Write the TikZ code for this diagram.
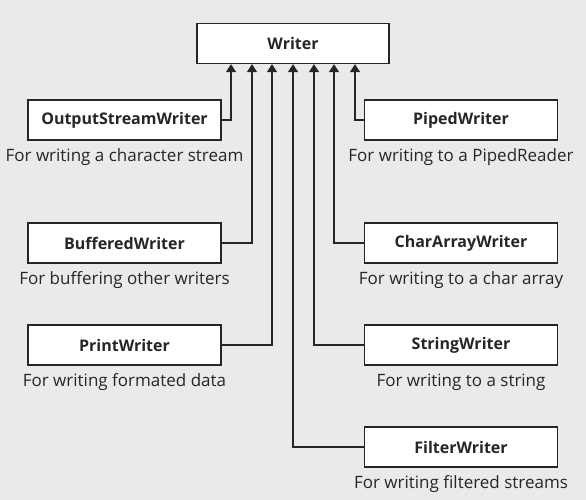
\documentclass[tikz,border=0pt]{standalone}
\usepackage{fontspec}
\setmainfont{Open Sans}
\usetikzlibrary{shapes,arrows.meta,positioning}
\definecolor{bggray}{HTML}{EAEAEA}
\definecolor{ink}{HTML}{262626}
\tikzstyle{block} = [draw=ink, fill=white, rectangle, line width=1.3pt,
    minimum height=40pt, minimum width=193pt, font=\bfseries\fontsize{16}{19}\selectfont, text=ink]
\tikzstyle{caption} = [inner sep=0pt, font=\fontsize{17}{20}\selectfont, text=ink]
\tikzstyle{link} = [draw=ink, line width=1.3pt, -{Triangle[width=10pt,length=8pt]}]

\begin{document}
\begin{tikzpicture}[x=1pt,y=1pt]
\fill[bggray] (0,0) rectangle (586,-500);
\useasboundingbox (0,0) rectangle (586,-500);

\node[block, name=writer, minimum width=192pt] at (293,-43.5) {Writer};

% left column
\node[block, name=osw] at (124.5,-120) {OutputStreamWriter};
\node[block, name=buffered] at (124.5,-243) {BufferedWriter};
\node[block, name=print] at (124.5,-345) {PrintWriter};

% right column
\node[block, name=piped] at (461,-120) {PipedWriter};
\node[block, name=chararray] at (461,-243) {CharArrayWriter};
\node[block, name=string] at (461,-345) {StringWriter};
\node[block, name=filter] at (461,-447) {FilterWriter};

\node[caption, name=oswtxt, below=8pt of osw] {For writing a character stream};
\node[caption, name=bufferedtxt, below=8pt of buffered] {For buffering other writers};
\node[caption, name=printtxt, below=8pt of print] {For writing formated data};
\node[caption, name=pipedtxt, below=8pt of piped] {For writing to a PipedReader};
\node[caption, name=chararraytxt, below=8pt of chararray] {For writing to a char array};
\node[caption, name=stringtxt, below=8pt of string] {For writing to a string};
\node[caption, name=filtertxt, below=8pt of filter] {For writing filtered streams};

% taps under Writer
\coordinate (t1) at ([xshift=-62pt]writer.south);
\coordinate (t2) at ([xshift=-41pt]writer.south);
\coordinate (t3) at ([xshift=-21pt]writer.south);
\coordinate (t4) at (writer.south);
\coordinate (t5) at ([xshift=21pt]writer.south);
\coordinate (t6) at ([xshift=41pt]writer.south);
\coordinate (t7) at ([xshift=62pt]writer.south);

\draw[link] (osw.east) -| (t1);
\draw[link] (buffered.east) -| (t2);
\draw[link] (print.east) -| (t3);
\draw[link] (filter.west) -| (t4);
\draw[link] (string.west) -| (t5);
\draw[link] (chararray.west) -| (t6);
\draw[link] (piped.west) -| (t7);
\end{tikzpicture}
\end{document}
